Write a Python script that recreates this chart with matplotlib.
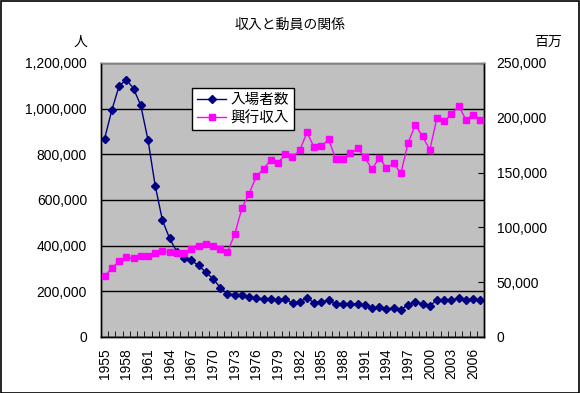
import matplotlib
matplotlib.use("Agg")
import matplotlib.pyplot as plt
from matplotlib.ticker import FuncFormatter, MultipleLocator
import numpy as np

plt.rcParams["font.family"] = ["Liberation Sans", "Noto Sans CJK JP", "DejaVu Sans"]

years = list(range(1955, 2008))

# 入場者数 (千人)
attendance = [
    868912, 993875, 1098882, 1127452, 1088111, 1014364, 863430, 662279,
    511121, 431454, 372676, 345811, 335067, 313398, 283980, 254799,
    216754, 187383, 185738, 185252, 174020, 170019, 165088, 166042,
    163970, 164422, 149450, 155277, 170043, 150527, 155130, 160760,
    143935, 144825, 143573, 146000, 138330, 125600, 130720, 122990,
    127040, 119575, 140719, 153102, 144762, 135390, 163280, 160767,
    162347, 170092, 160453, 164585, 163193,
]

# 興行収入 (百万円)
revenue = [
    55700, 62700, 69100, 72700, 71800, 73900, 73900, 76400,
    78200, 77600, 76700, 76400, 80000, 82700, 84800, 83000,
    80000, 77600, 93600, 117600, 130900, 146600, 153300, 161500,
    158800, 166600, 163900, 170300, 186600, 173000, 173900, 180300,
    162100, 162100, 167500, 172100, 163900, 153000, 163600, 154300,
    158400, 149400, 177200, 193500, 182960, 170860, 200150, 196780,
    203260, 210910, 198160, 202930, 198440,
]

fig = plt.figure(figsize=(5.8, 3.93), dpi=100)
fig.patch.set_facecolor("white")
fig.patches.append(plt.Rectangle((0.001, 0.001), 0.997, 0.996, transform=fig.transFigure,
                                 fill=False, edgecolor="black", linewidth=1.2))

ax = fig.add_axes([101 / 580, 1 - 337 / 393, 383 / 580, 274 / 393])
ax.set_facecolor("#C0C0C0")
x = np.arange(len(years))

ax.set_ylim(0, 1200000)
ax.yaxis.set_major_locator(MultipleLocator(200000))
ax.yaxis.set_major_formatter(FuncFormatter(lambda v, p: f"{int(v):,}"))
ax.grid(axis="y", color="black", linewidth=1)
ax.set_axisbelow(True)
ax.set_xlim(-0.5, len(years) - 0.5)

l1, = ax.plot(x, attendance, color="#000080", marker="D", markersize=4.5,
              linewidth=1, label="入場者数", zorder=3)

ax2 = ax.twinx()
ax2.set_ylim(0, 250000)
ax2.yaxis.set_major_locator(MultipleLocator(50000))
ax2.yaxis.set_major_formatter(FuncFormatter(lambda v, p: f"{int(v):,}"))
l2, = ax2.plot(x, revenue, color="#FF00FF", marker="s", markersize=4.5,
               linewidth=1, label="興行収入", zorder=3)

ax.set_xticks(np.arange(-0.5, len(years), 1), minor=True)
ax.set_xticks(x[::3])
ax.set_xticklabels([str(y) for y in years[::3]], rotation=90)
ax.tick_params(axis="x", which="major", length=0, pad=8, labelsize=10)
ax.tick_params(axis="x", which="minor", direction="in", length=4, color="black")
ax.tick_params(axis="y", direction="out", length=0, labelsize=10, pad=10)
ax2.tick_params(axis="y", direction="in", length=4, labelsize=10, pad=9)

for a in (ax, ax2):
    for s in a.spines.values():
        s.set_color("black")
        s.set_linewidth(1)
ax.spines["top"].set_color("#808080")
ax2.spines["top"].set_color("#808080")

fig.text(290 / 580, 1 - 25 / 393, "収入と動員の関係", ha="center", va="center",
         fontsize=10, family=["Noto Sans CJK JP", "DejaVu Sans"])
fig.text(80 / 580, 1 - 42 / 393, "人", ha="center", va="center", fontsize=10,
         family=["Noto Sans CJK JP", "DejaVu Sans"])
fig.text(548 / 580, 1 - 42 / 393, "百万", ha="center", va="center", fontsize=10,
         family=["Noto Sans CJK JP", "DejaVu Sans"])

leg = ax2.legend(handles=[l1, l2], loc="upper left",
                 bbox_to_anchor=((192 - 101) / 383, (337 - 88) / 274),
                 frameon=True, fancybox=False, framealpha=1, edgecolor="black",
                 borderpad=0.35, handlelength=2.0, labelspacing=0.25,
                 handletextpad=0.3, borderaxespad=0,
                 prop={"family": ["Noto Sans CJK JP"], "size": 10.5})
leg.get_frame().set_linewidth(1)
leg.set_zorder(10)

fig.savefig("out.png", dpi=100)
